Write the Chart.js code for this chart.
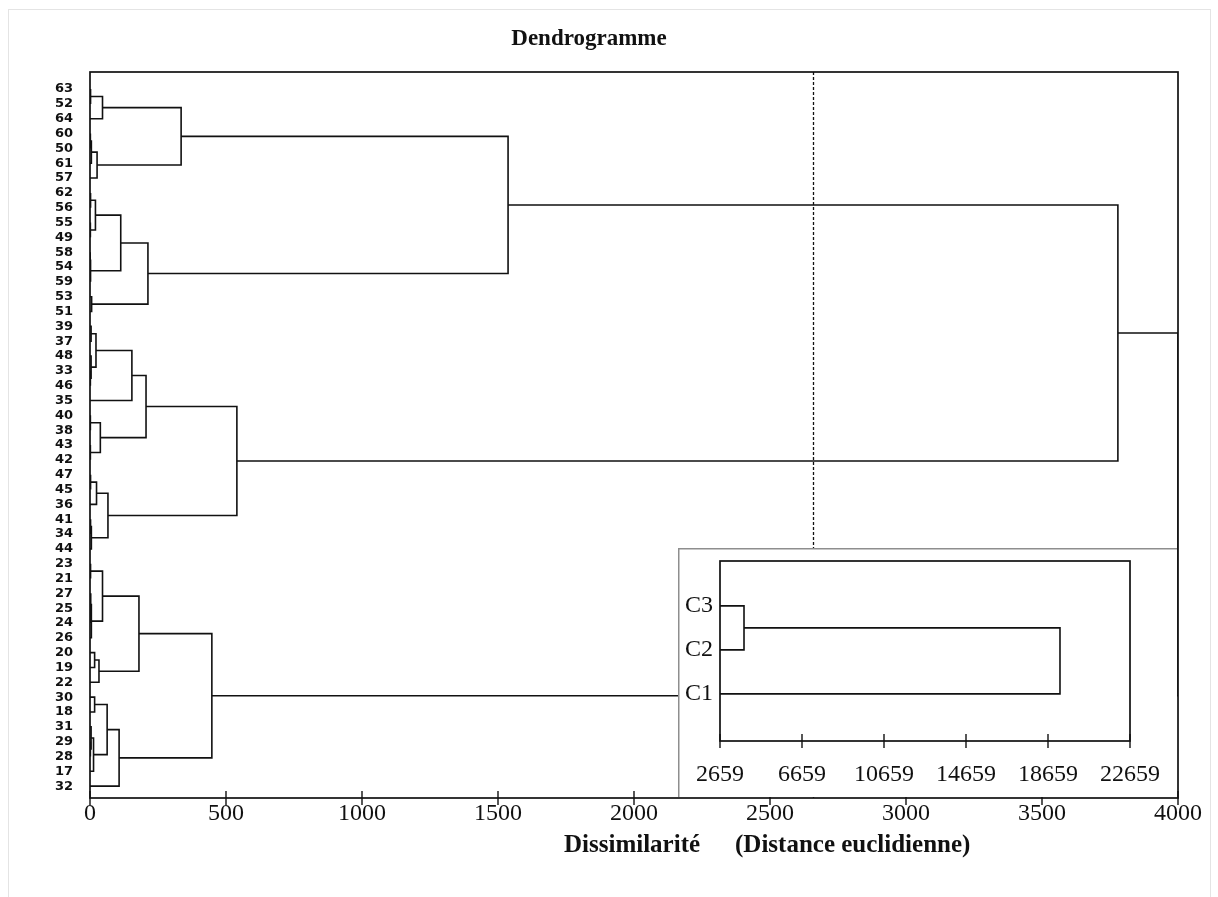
<!DOCTYPE html>
<html lang="fr">
<head>
<meta charset="utf-8">
<title>Dendrogramme</title>
<script src="https://cdn.jsdelivr.net/npm/chart.js@4.4.0/dist/chart.umd.min.js"></script>
<style>
  html, body { margin: 0; padding: 0; background: #fff; }
  #page { position: relative; width: 1218px; height: 897px; overflow: hidden; }
  #edge { position: absolute; left: 8px; top: 9px; width: 1201px; height: 900px; border: 1px solid #e4e4e4; }
  #main { position: absolute; left: 0; top: 0; }
  #inset { position: absolute; left: 678px; top: 548px; }
</style>
</head>
<body>
<div id="page">
  <div id="edge"></div>
  <canvas id="main" width="1218" height="897"></canvas>
  <canvas id="inset" width="499" height="249"></canvas>
</div>
<script>
// leaves, top to bottom
const leafLabels = [
  '63', '52', '64', '60', '50', '61', '57', '62', '56', '55', '49', '58', '54', '59', '53', '51',
  '39', '37', '48', '33', '46', '35', '40', '38', '43', '42', '47', '45', '36', '41', '34', '44',
  '23', '21', '27', '25', '24', '26', '20', '19', '22', '30', '18', '31', '29', '28', '17', '32'
];

// [left, right, height]; a string is a leaf, a number points to an earlier merge
const merges = [
  ['63', '52', 3], [0, '64', 46], ['60', '50', 2], [2, '61', 5], [3, '57', 26], [1, 4, 335],
  ['62', '56', 3], ['55', '49', 2], [6, 7, 20], ['58', '54', 1], [9, '59', 3], [8, 10, 113],
  ['53', '51', 6], [11, 12, 213], [5, 13, 1537],
  ['39', '37', 4], ['33', '46', 2], ['48', 16, 4], [15, 17, 22], [18, '35', 154],
  ['40', '38', 2], ['43', '42', 2], [20, 21, 38], [19, 22, 206],
  ['47', '45', 3], [24, '36', 24], ['41', '34', 3], [26, '44', 5], [25, 27, 66], [23, 28, 540],
  ['23', '21', 3], ['25', '24', 2], ['27', 31, 3], [32, '26', 5], [30, 33, 46],
  ['20', '19', 17], [35, '22', 33], [34, 36, 180],
  ['30', '18', 17], ['29', '28', 2], ['31', 39, 4], [40, '17', 13], [38, 41, 63], [42, '32', 107],
  [37, 43, 448],
  [14, 29, 3779], [45, 44, 4000]
];

const xTicks = [0, 500, 1000, 1500, 2000, 2500, 3000, 3500, 4000];
const cutLevel = 2659;

// classes cut at the dashed line
const classLabels = ['C3', 'C2', 'C1'];
const classMerges = [['C3', 'C2', 3830], [0, 'C1', 19244]];
const insetTicks = [2659, 6659, 10659, 14659, 18659, 22659];

const ink = '#111';
const serif = '"Liberation Serif", "Times New Roman", serif';
const sans = '"DejaVu Sans", Verdana, sans-serif';

// turn merges into the elbow lines of a dendrogram
function linkDatasets(leaves, table, base) {
  const nodes = [];
  const node = ref => typeof ref === 'number'
    ? nodes[ref]
    : { y: leaves.indexOf(ref), h: base };
  const sets = [];
  table.forEach(([a, b, h]) => {
    const na = node(a), nb = node(b);
    sets.push({
      data: [{ x: na.h, y: na.y }, { x: h, y: na.y }, { x: h, y: nb.y }, { x: nb.h, y: nb.y }],
      showLine: true,
      borderColor: ink,
      borderWidth: 1.6,
      pointRadius: 0,
      tension: 0
    });
    nodes.push({ y: (na.y + nb.y) / 2, h });
  });
  return sets;
}

// no extra room for edge labels, the layout padding decides
function noEdgePadding(s) {
  s.paddingTop = 0;
  s.paddingBottom = 0;
  s.paddingLeft = 0;
  s.paddingRight = 0;
}

const framePlugin = {
  id: 'frame',
  afterDatasetsDraw(chart) {
    const { ctx, chartArea: a, scales } = chart;
    ctx.save();
    ctx.strokeStyle = ink;
    ctx.lineWidth = 1.7;
    ctx.strokeRect(a.left, a.top, a.right - a.left, a.bottom - a.top);
    // tick marks crossing the bottom axis
    ctx.lineWidth = 1.4;
    scales.x.ticks.forEach(t => {
      const px = scales.x.getPixelForValue(t.value);
      ctx.beginPath();
      ctx.moveTo(px, a.bottom - 7);
      ctx.lineTo(px, a.bottom + 7);
      ctx.stroke();
    });
    ctx.restore();
  }
};

const cutPlugin = {
  id: 'cut',
  afterDatasetsDraw(chart) {
    const { ctx, chartArea: a, scales } = chart;
    const px = Math.round(scales.x.getPixelForValue(cutLevel)) + 0.5;
    ctx.save();
    ctx.strokeStyle = ink;
    ctx.lineWidth = 1.3;
    ctx.setLineDash([3, 2]);
    ctx.beginPath();
    ctx.moveTo(px, a.top);
    ctx.lineTo(px, a.bottom);
    ctx.stroke();
    ctx.restore();
  }
};

const axisTitlePlugin = {
  id: 'axisTitle',
  afterDraw(chart) {
    const { ctx, chartArea: a } = chart;
    ctx.save();
    ctx.fillStyle = ink;
    ctx.font = 'bold 25px ' + serif;
    ctx.textBaseline = 'middle';
    ctx.textAlign = 'left';
    ctx.fillText('Dissimilarité', a.left + 474, a.bottom + 48);
    ctx.fillText('(Distance euclidienne)', a.left + 645, a.bottom + 48);
    ctx.restore();
  }
};

const insetBackPlugin = {
  id: 'insetBack',
  beforeDraw(chart) {
    const { ctx, width, height } = chart;
    ctx.save();
    ctx.fillStyle = '#fff';
    ctx.fillRect(0, 0, width, height);
    ctx.strokeStyle = '#8e8e8e';
    ctx.lineWidth = 1.5;
    ctx.beginPath();
    ctx.moveTo(0.75, height);
    ctx.lineTo(0.75, 0.75);
    ctx.lineTo(width, 0.75);
    ctx.stroke();
    ctx.restore();
  }
};

new Chart(document.getElementById('main'), {
  type: 'scatter',
  data: { datasets: linkDatasets(leafLabels, merges, 0) },
  options: {
    responsive: false,
    animation: false,
    devicePixelRatio: 1,
    events: [],
    layout: { padding: { left: 0, right: 40, top: 0, bottom: 0 } },
    plugins: {
      legend: { display: false },
      tooltip: { enabled: false },
      title: {
        display: true,
        text: 'Dendrogramme',
        color: ink,
        font: { family: serif, size: 23, weight: 'bold' },
        padding: { top: 25, bottom: 19.4 }
      }
    },
    scales: {
      x: {
        type: 'linear',
        min: 0,
        max: 4000,
        afterBuildTicks: s => { s.ticks = xTicks.map(v => ({ value: v })); },
        afterFit: s => { s.height = 99; noEdgePadding(s); },
        grid: { display: false, drawTicks: false },
        border: { display: false },
        ticks: {
          color: ink,
          font: { family: serif, size: 24 },
          padding: 1,
          maxRotation: 0,
          callback: v => String(v)
        }
      },
      y: {
        type: 'linear',
        reverse: true,
        min: -1.15,
        max: 47.8,
        afterBuildTicks: s => { s.ticks = leafLabels.map((_, i) => ({ value: i })); },
        afterFit: s => { s.width = 90; noEdgePadding(s); },
        grid: { display: false, drawTicks: false },
        border: { display: false },
        ticks: {
          autoSkip: false,
          color: ink,
          font: { family: sans, size: 13, weight: 'bold' },
          padding: 17,
          callback: v => leafLabels[v] ?? ''
        }
      }
    }
  },
  plugins: [framePlugin, cutPlugin, axisTitlePlugin]
});

new Chart(document.getElementById('inset'), {
  type: 'scatter',
  data: { datasets: linkDatasets(classLabels, classMerges, insetTicks[0]) },
  options: {
    responsive: false,
    animation: false,
    devicePixelRatio: 1,
    events: [],
    layout: { padding: { left: 0, right: 47, top: 13, bottom: 0 } },
    plugins: { legend: { display: false }, tooltip: { enabled: false } },
    scales: {
      x: {
        type: 'linear',
        min: insetTicks[0],
        max: insetTicks[insetTicks.length - 1],
        afterBuildTicks: s => { s.ticks = insetTicks.map(v => ({ value: v })); },
        afterFit: s => { s.height = 56; noEdgePadding(s); },
        grid: { display: false, drawTicks: false },
        border: { display: false },
        ticks: {
          color: ink,
          font: { family: serif, size: 24 },
          padding: 19.6,
          maxRotation: 0,
          callback: v => String(v)
        }
      },
      y: {
        type: 'linear',
        reverse: true,
        min: -1.02,
        max: 3.07,
        afterBuildTicks: s => { s.ticks = classLabels.map((_, i) => ({ value: i })); },
        afterFit: s => { s.width = 42; noEdgePadding(s); },
        grid: { display: false, drawTicks: false },
        border: { display: false },
        ticks: {
          autoSkip: false,
          color: ink,
          font: { family: serif, size: 24 },
          padding: 7,
          callback: v => classLabels[v] ?? ''
        }
      }
    }
  },
  plugins: [insetBackPlugin, framePlugin]
});
</script>
</body>
</html>
